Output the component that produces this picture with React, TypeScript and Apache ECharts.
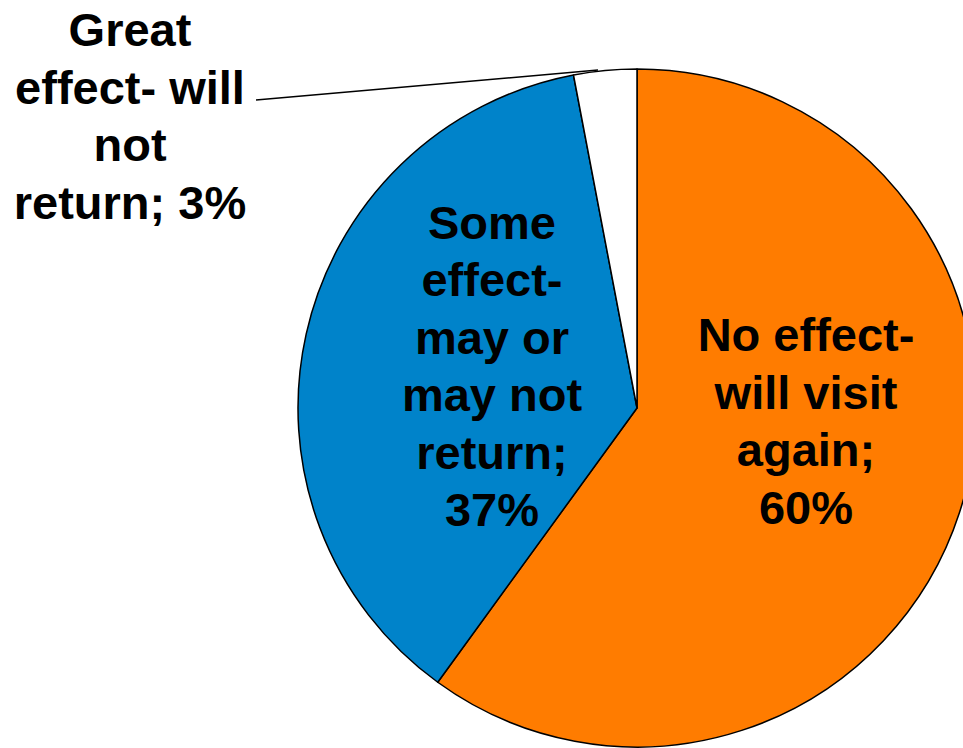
import React, { useEffect, useRef } from "react";
import * as echarts from "echarts";

const categories = [
  "No effect-\nwill visit\nagain",
  "Some\neffect-\nmay or\nmay not\nreturn",
  "Great\neffect- will\nnot\nreturn",
];
const values = [60, 37, 3];
const colors = ["#FF7C00", "#0083CA", "#FFFFFF"];

export default function App() {
  const ref = useRef<HTMLDivElement>(null);
  useEffect(() => {
    document.body.style.margin = "0";
    const chart = echarts.init(ref.current!, null, { renderer: "svg" });
    const labelPos = [
      { x: 806, y: 421 },
      { x: 492, y: 366 },
      { x: 130, y: 116 },
    ];
    chart.setOption({
      animation: false,
      backgroundColor: "#ffffff",
      series: [
        {
          type: "pie",
          center: [637, 408],
          radius: 339,
          startAngle: 90,
          clockwise: true,
          avoidLabelOverlap: false,
          data: categories.map((name, i) => ({
            name,
            value: values[i],
            itemStyle: { color: colors[i] },
            label: { position: i === 2 ? "outside" : "inside" },
            labelLine: { show: i === 2 },
          })),
          itemStyle: { borderColor: "#000000", borderWidth: 1.5 },
          label: {
            show: true,
            formatter: (p: any) =>
              p.dataIndex === 0 || p.dataIndex === 1
                ? `${p.name};\n${p.value}%`
                : `${p.name}; ${p.value}%`,
            fontFamily: "Liberation Sans, Arial, sans-serif",
            fontWeight: "bold",
            fontSize: 47,
            lineHeight: 57.5,
            color: "#000000",
            align: "center",
          },
          labelLine: {
            show: true,
            lineStyle: { color: "#000000", width: 1.5 },
          },
          labelLayout: (params: any) => {
            const i = params.dataIndex;
            const p = labelPos[i];
            const res: any = {
              x: p.x,
              y: p.y,
              align: "center",
              verticalAlign: "middle",
            };
            if (i === 2) {
              res.labelLinePoints = [
                [598, 70],
                [256, 100],
                [256, 100],
              ];
            }
            return res;
          },
        },
      ],
    });
    return () => chart.dispose();
  }, []);
  return <div ref={ref} style={{ width: 963, height: 748 }} />;
}
